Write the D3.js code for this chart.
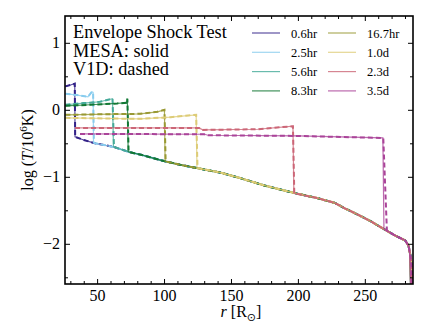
<!DOCTYPE html>
<html><head><meta charset="utf-8">
<script src="https://cdn.jsdelivr.net/npm/d3@7"></script>
<style>
body{margin:0;background:#fff}
svg{display:block}
text{font-family:"Liberation Serif","Times New Roman",serif;fill:#000}
</style>
</head><body>
<svg id="chart" width="436" height="327"></svg>
<script>
// ---------- data ----------
const categories = ["0.6hr","2.5hr","5.6hr","8.3hr","16.7hr","1.0d","2.3d","3.5d"];
const colors = ["#332288","#88CCEE","#44AA99","#117733","#999933","#DDCC77","#CC6677","#AA4499"];

// unshocked (outer) profile, MESA
const mesaBaseR = [33.5, 40, 48.4, 55, 62.6, 73.8, 83.5, 99.9, 112, 124.5, 141.7, 157, 175, 196.9, 215, 227.6, 235, 246.3, 255, 263.8, 272, 280.2, 282.7, 283.6, 284.0, 284.2];
const mesaBaseV = [-0.405, -0.45, -0.50, -0.525, -0.555, -0.63, -0.675, -0.765, -0.82, -0.87, -0.935, -1.02, -1.13, -1.24, -1.32, -1.39, -1.47, -1.58, -1.67, -1.775, -1.87, -1.95, -2.03, -2.15, -2.4, -2.62];
// unshocked profile, V1D
const v1dBaseR = [33.5, 40, 48.4, 55, 62.6, 73.8, 83.5, 99.9, 112, 124.5, 141.7, 157, 175, 196.9, 215, 227.6, 235, 246.3, 255, 263.8, 272, 280.2, 282.7, 284.3, 285.0, 285.2, 285.5];
const v1dBaseV = [-0.405, -0.45, -0.50, -0.525, -0.555, -0.63, -0.675, -0.765, -0.82, -0.87, -0.935, -1.02, -1.13, -1.24, -1.32, -1.39, -1.47, -1.58, -1.67, -1.775, -1.87, -1.95, -2.03, -2.2, -2.35, -2.5, -2.62];

// shocked plateau (inside the shock) + foot of the shock, MESA
const mesaPlateauR = [
  [26.3, 30, 33.3, 33.5],
  [26.3, 35, 43.2, 46.1, 47.0, 47.3],
  [26.3, 40, 52, 61.5, 62.2],
  [26.3, 45, 65, 71.8, 72.6, 73.2],
  [26.3, 60, 82, 95, 100.3, 100.8],
  [26.3, 60, 82, 105, 124, 124.6],
  [33.5, 126, 129, 170, 196.3, 197],
  [37.2, 130, 133, 200, 263.5, 264.3]
];
const mesaPlateauV = [
  [0.35, 0.37, 0.39, -0.405],
  [0.24, 0.22, 0.195, 0.27, 0.26, -0.49],
  [0.075, 0.10, 0.12, 0.165, -0.555],
  [0.06, 0.075, 0.095, 0.105, 0.165, -0.625],
  [-0.075, -0.065, -0.06, -0.03, 0.0, -0.77],
  [-0.12, -0.13, -0.135, -0.11, -0.075, -0.87],
  [-0.27, -0.27, -0.30, -0.29, -0.245, -1.245],
  [-0.36, -0.365, -0.38, -0.39, -0.42, -1.78]
];
// V1D
const v1dPlateauR = [
  [26.3, 30, 33.3, 33.6],
  [26.3, 35, 43.2, 46.1, 47.0, 47.6],
  [26.3, 40, 52, 61.5, 62.6],
  [26.3, 45, 65, 71.8, 72.6, 73.5],
  [26.3, 60, 82, 95, 100.3, 101.2],
  [26.3, 60, 82, 105, 124, 125],
  [33.5, 126, 129, 170, 196.3, 197.3],
  [37.2, 130, 133, 200, 263.8, 266.5]
];
const v1dPlateauV = [
  [0.35, 0.37, 0.39, -0.405],
  [0.24, 0.22, 0.195, 0.27, 0.26, -0.49],
  [0.075, 0.10, 0.12, 0.165, -0.555],
  [0.06, 0.075, 0.095, 0.105, 0.165, -0.625],
  [-0.075, -0.065, -0.06, -0.03, 0.0, -0.77],
  [-0.12, -0.13, -0.135, -0.11, -0.075, -0.87],
  [-0.27, -0.27, -0.30, -0.29, -0.245, -1.245],
  [-0.36, -0.365, -0.38, -0.39, -0.42, -1.80]
];

const xMajor = [50, 100, 150, 200, 250];
const xMinor = [30, 40, 60, 70, 80, 90, 110, 120, 130, 140, 160, 170, 180, 190, 210, 220, 230, 240, 260, 270, 280];
const yMajor = [-2, -1, 0, 1];
const yMinor = [-2.5, -1.5, -0.5, 0.5];

// ---------- layout ----------
const L = 65, R = 413, T = 16, B = 284;
const svg = d3.select("#chart");
const x = d3.scaleLinear().domain([26, 286]).range([L, R]);
const y = d3.scaleLinear().domain([-2.6, 1.4]).range([B, T]);

svg.append("defs").append("clipPath").attr("id","clip")
  .append("rect").attr("x",L).attr("y",T).attr("width",R-L).attr("height",B-T);

function buildSeries(pr, pv, br, bv) {
  const pts = pr.map((r,i)=>[r, pv[i]]);
  const foot = pr[pr.length-1];
  br.forEach((r,i)=>{ if (r > foot) pts.push([r, bv[i]]); });
  return pts;
}

const line = d3.line().x(d=>x(d[0])).y(d=>y(d[1]));
const g = svg.append("g").attr("clip-path","url(#clip)");
categories.forEach((c,i)=>{
  const m = buildSeries(mesaPlateauR[i], mesaPlateauV[i], mesaBaseR, mesaBaseV);
  const v = buildSeries(v1dPlateauR[i], v1dPlateauV[i], v1dBaseR, v1dBaseV);
  g.append("path").attr("d", line(m)).attr("fill","none")
    .attr("stroke", colors[i]).attr("stroke-width",1.2).attr("stroke-opacity",0.8);
  g.append("path").attr("d", line(v)).attr("fill","none")
    .attr("stroke", colors[i]).attr("stroke-width",2).attr("stroke-dasharray","5,3");
});

// ---------- axes ----------
svg.append("g").attr("transform",`translate(0,${B})`)
  .call(d3.axisBottom(x).tickValues(xMajor).tickSize(-5).tickPadding(6).tickFormat(d3.format("d")));
svg.append("g").attr("transform",`translate(0,${B})`)
  .call(d3.axisBottom(x).tickValues(xMinor).tickSize(-3).tickFormat(""));
svg.append("g").attr("transform",`translate(0,${T})`)
  .call(d3.axisTop(x).tickValues(xMajor).tickSize(-5).tickFormat(""));
svg.append("g").attr("transform",`translate(0,${T})`)
  .call(d3.axisTop(x).tickValues(xMinor).tickSize(-3).tickFormat(""));
svg.append("g").attr("transform",`translate(${L},0)`)
  .call(d3.axisLeft(y).tickValues(yMajor).tickSize(-5).tickPadding(5).tickFormat(d3.format("d")));
svg.append("g").attr("transform",`translate(${L},0)`)
  .call(d3.axisLeft(y).tickValues(yMinor).tickSize(-3).tickFormat(""));
svg.append("g").attr("transform",`translate(${R},0)`)
  .call(d3.axisRight(y).tickValues(yMajor).tickSize(-5).tickFormat(""));
svg.append("g").attr("transform",`translate(${R},0)`)
  .call(d3.axisRight(y).tickValues(yMinor).tickSize(-3).tickFormat(""));
svg.selectAll(".domain").remove();
svg.selectAll(".tick line").attr("stroke","#000").attr("stroke-width",1);
svg.selectAll(".tick text").style("font-family",'"Liberation Serif","Times New Roman",serif').style("font-size","16px").attr("fill","#000");

svg.append("rect").attr("x",L).attr("y",T).attr("width",R-L).attr("height",B-T)
  .attr("fill","none").attr("stroke","#000").attr("stroke-width",1.6);

// ---------- axis labels ----------
const xl = svg.append("text").attr("x",241).attr("y",317).attr("text-anchor","middle").style("font-size","16px");
xl.append("tspan").style("font-style","italic").text("r");
xl.append("tspan").text(" [R");
xl.append("tspan").attr("dy",4).style("font-size","11px").style("font-family","DejaVu Sans").text("\u2299");
xl.append("tspan").attr("dy",-4).text("]");

const yl = svg.append("text").attr("transform","translate(33,150) rotate(-90)")
  .attr("text-anchor","middle").style("font-size","16px");
yl.append("tspan").text("log (");
yl.append("tspan").style("font-style","italic").text("T");
yl.append("tspan").text("/10");
yl.append("tspan").attr("dy",-6).style("font-size","11px").text("6");
yl.append("tspan").attr("dy",6).text("K)");

// ---------- annotation ----------
const ann = ["Envelope Shock Test","MESA: solid","V1D: dashed"];
svg.append("g").selectAll("text").data(ann).join("text")
  .attr("x",73).attr("y",(d,i)=>38+i*18.5).style("font-size","18.3px").text(d=>d);

// ---------- legend ----------
const lg = svg.append("g");
categories.forEach((c,i)=>{
  const col = Math.floor(i/4), row = i%4;
  const ly = 33 + row*19.3;
  const lx = col===0 ? 252 : 328;
  lg.append("line").attr("x1",lx).attr("x2",lx+28).attr("y1",ly).attr("y2",ly)
    .attr("stroke",colors[i]).attr("stroke-width",1.2).attr("stroke-opacity",0.8);
  lg.append("text").attr("x",lx+39).attr("y",ly+4.5).style("font-size","12.5px").text(c);
});
</script>
</body></html>
